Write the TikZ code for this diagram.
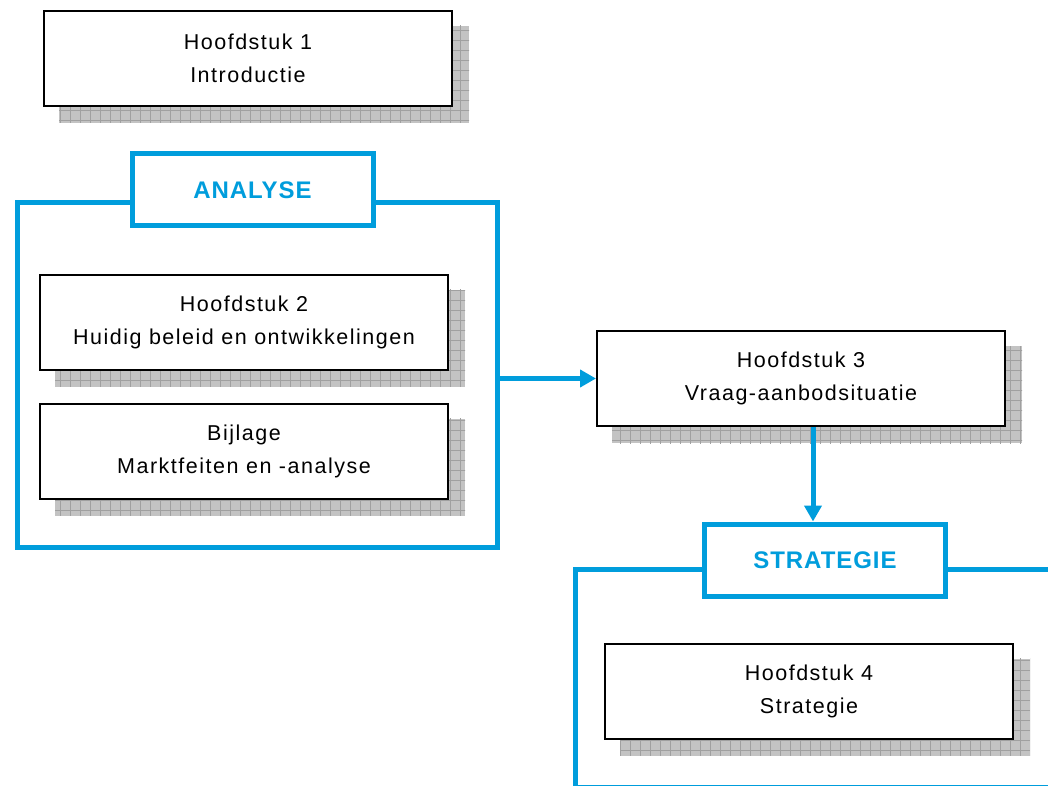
\documentclass[tikz,border=0pt]{standalone}
\usepackage{fontspec}
\setmainfont{Liberation Sans}[LetterSpace=7]
\usepackage{tikz}
\usetikzlibrary{positioning, arrows.meta, calc, backgrounds}

\definecolor{planblue}{RGB}{0,157,220}
\definecolor{shadowgray}{RGB}{195,195,195}
\definecolor{gridgray}{RGB}{160,160,160}

\begin{document}
\begin{tikzpicture}[
    x=1pt, y=-1pt,
    chapter/.style={draw, line width=2pt, fill=white, minimum width=408pt, minimum height=95pt, align=center, font=\fontsize{21.5}{33}\selectfont},
    frame/.style={draw=planblue, line width=5pt},
    label/.style={draw=planblue, line width=5pt, fill=white, minimum width=241pt, minimum height=72pt, text=planblue, font=\fontsize{24}{28}\selectfont\bfseries\addfontfeature{LetterSpace=4}},
    link/.style={draw=planblue, line width=5pt, -{Triangle[length=16pt, width=17pt]}}
]
\useasboundingbox (0,0) rectangle (1048,786);
\clip (0,0) rectangle (1048,786);

% chapters
\node[chapter] (h1) at (248,58.5) {Hoofdstuk 1\\Introductie};
\node[chapter] (h2) at (244,322) {Hoofdstuk 2\\Huidig beleid en ontwikkelingen};
\node[chapter] (bij) at (244,451) {Bijlage\\Marktfeiten en -analyse};
\node[chapter] (h3) at (801,378.5) {Hoofdstuk 3\\Vraag-aanbodsituatie};
\node[chapter] (h4) at (809,691) {Hoofdstuk 4\\Strategie};

% frames
\node[frame, minimum width=480pt, minimum height=344pt] (analyse) at (257,375) {};
\node[label] (alabel) at (252.5,190) {ANALYSE};
\draw[frame] (1060,569) -- (575,569) -- (575,787) -- (1060,787);
\node[label] (slabel) at (825,560) {STRATEGIE};

% shadows
\begin{scope}[on background layer]
\foreach \n in {h1,h2,bij,h3,h4} {
    \begin{scope}
    \clip ($(\n.south west)+(16,16)$) rectangle ($(\n.north east)+(16,16)$);
    \fill[shadowgray] ($(\n.south west)+(16,16)$) rectangle ($(\n.north east)+(16,16)$);
    \draw[gridgray, line width=0.9pt, step=10pt] ($(\n.south west)+(6,26)$) grid ($(\n.north east)+(26,6)$);
    \end{scope}
}
\end{scope}

% arrows
\coordinate (drop) at (813,0);
\draw[link] (h3.west -| analyse.east) -- (h3.west);
\draw[link] (h3.south -| drop) -- (slabel.north -| drop);
\end{tikzpicture}
\end{document}
